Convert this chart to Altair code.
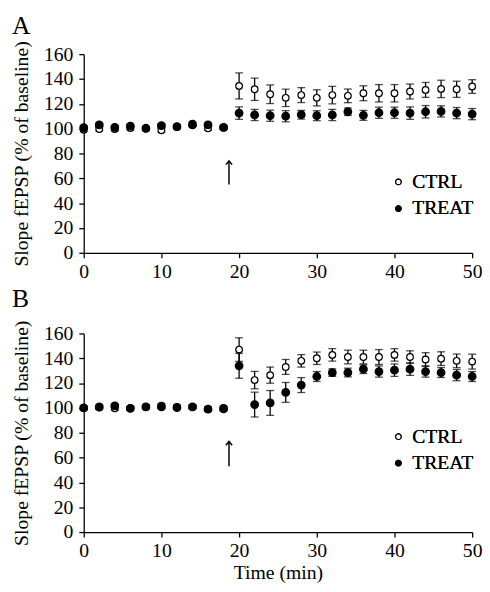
import altair as alt
import pandas as pd

FONT = "Liberation Serif, Times New Roman, serif"

time = list(range(0, 52, 2))

# Panel A
a_ctrl = [99.2, 99.7, 99.7, 100.5, 100.0, 98.7, 101.3, 104.0, 100.3, 100.8,
          134.4, 131.7, 127.7, 124.8, 127.0, 124.8, 127.0, 126.4, 128.5, 128.5,
          128.5, 129.9, 131.2, 132.0, 131.7, 133.9]
a_ctrl_err = [1.5, 1.5, 1.5, 1.5, 1.5, 1.5, 1.5, 1.5, 1.5, 1.5,
              10.5, 9.0, 7.5, 7.0, 6.0, 6.5, 7.0, 5.5, 6.0, 7.0,
              7.0, 6.0, 6.0, 7.0, 6.5, 5.5]
a_treat = [100.8, 103.0, 101.0, 102.0, 100.3, 102.4, 101.6, 103.0, 103.0, 101.0,
           112.5, 111.0, 110.4, 110.0, 111.2, 110.4, 111.0, 113.6, 110.7, 112.8,
           112.8, 112.5, 113.6, 113.9, 112.5, 111.7]
a_treat_err = [1.5, 1.5, 1.5, 1.5, 1.5, 1.5, 1.5, 1.5, 1.5, 1.5,
               5.0, 4.5, 4.5, 4.5, 3.5, 4.0, 4.5, 3.0, 4.0, 4.5,
               4.5, 5.0, 5.0, 4.5, 4.5, 4.5]

# Panel B
b_ctrl = [100.0, 100.3, 99.7, 99.7, 100.8, 101.9, 100.8, 100.8, 99.0, 100.0,
          147.0, 122.4, 126.4, 133.0, 137.9, 140.0, 142.7, 141.0, 141.0, 141.0,
          142.7, 141.0, 139.0, 139.7, 137.9, 137.3]
b_ctrl_err = [1.5, 1.5, 1.5, 1.5, 1.5, 1.5, 1.5, 1.5, 1.5, 1.5,
              9.5, 7.0, 6.5, 6.0, 5.0, 5.0, 5.0, 5.5, 5.5, 6.0,
              5.0, 5.0, 5.5, 5.5, 5.5, 6.0]
b_treat = [100.0, 100.8, 101.6, 99.7, 100.8, 100.8, 100.3, 100.8, 99.0, 99.2,
           133.9, 102.7, 104.0, 112.5, 118.4, 125.3, 128.5, 128.5, 131.2, 129.3,
           130.4, 131.2, 129.3, 128.5, 126.4, 125.3]
b_treat_err = [1.5, 1.5, 1.5, 1.5, 1.5, 1.5, 1.5, 1.5, 1.5, 1.5,
               10.0, 10.0, 10.0, 8.0, 6.0, 4.0, 3.0, 3.5, 3.5, 4.5,
               5.0, 5.0, 4.5, 4.0, 4.5, 4.0]

groups = ["CTRL", "TREAT"]
arrow_x = [18.7]
arrow_y = [[55, 74], [53, 73]]
legend_pos = [(310, 120), (310, 95)]
title_offsets = [2, 8]


def panel(label, ctrl, ctrl_err, treat, treat_err, arrow, lpos, xtitle, toff):
    rows = []
    for g, vals, errs in ((groups[0], ctrl, ctrl_err), (groups[1], treat, treat_err)):
        for t, v, e in zip(time, vals, errs):
            rows.append({"time": t, "value": v, "lo": v - e, "hi": v + e, "group": g})
    df = pd.DataFrame(rows)

    x = alt.X("time:Q", scale=alt.Scale(domain=[0, 50], nice=False, zero=False),
              axis=alt.Axis(values=[0, 10, 20, 30, 40, 50], title=xtitle))
    y_axis = alt.Axis(values=[0, 20, 40, 60, 80, 100, 120, 140, 160],
                      title="Slope fEPSP (% of baseline)")
    ysc = alt.Scale(domain=[0, 160], nice=False)
    y = alt.Y("value:Q", scale=ysc, axis=y_axis)

    layers = []
    for i, g in enumerate(groups):
        base = alt.Chart(df).transform_filter(alt.datum.group == g)
        rule = base.mark_rule(color="black", strokeWidth=1.3).encode(
            x=x, y=alt.Y("lo:Q", scale=ysc, axis=y_axis), y2="hi:Q")
        cap_lo = base.mark_tick(color="black", orient="horizontal", size=8, thickness=1.3).encode(
            x=x, y=alt.Y("lo:Q", scale=ysc, axis=y_axis))
        cap_hi = base.mark_tick(color="black", orient="horizontal", size=8, thickness=1.3).encode(
            x=x, y=alt.Y("hi:Q", scale=ysc, axis=y_axis))
        pts = base.mark_point(filled=True, shape="circle", size=46 if i == 0 else 60,
                              stroke="black", strokeWidth=1.2, opacity=1).encode(
            x=x, y=y,
            fill=alt.Fill("group:N", scale=alt.Scale(domain=groups, range=["white", "black"]),
                          legend=alt.Legend(title=None, orient="none", legendX=lpos[0], legendY=lpos[1],
                                            symbolType="circle", symbolSize=32,
                                            symbolStrokeColor="black", symbolStrokeWidth=1.2,
                                            labelFont=FONT, labelFontSize=20, labelColor="black",
                                            rowPadding=7, labelOffset=4)))
        layers += [rule, cap_lo, cap_hi, pts]

    adf = pd.DataFrame({"time": arrow_x, "lo": [arrow[0]], "hi": [arrow[1]]})
    arrow_line = alt.Chart(adf).mark_rule(color="black", strokeWidth=1.5).encode(
        x=x, y=alt.Y("lo:Q", scale=ysc, axis=y_axis), y2="hi:Q")
    arrow_head = alt.Chart(adf).mark_point(shape="M-1,1.2L0,0L1,1.2", size=40, filled=False,
                                           color="black", strokeWidth=1.5, opacity=1).encode(
        x=x, y=alt.Y("hi:Q", scale=ysc, axis=y_axis))
    layers += [arrow_line, arrow_head]

    return alt.layer(*layers).properties(
        width=395, height=202,
        title=alt.TitleParams(text=label, anchor="start", frame="bounds", fontSize=26,
                              font=FONT, fontWeight="normal", color="black", offset=toff),
    ).resolve_scale(fill="independent")


pa = panel("A", a_ctrl, a_ctrl_err, a_treat, a_treat_err, arrow_y[0], legend_pos[0], None, title_offsets[0])
pb = panel("B", b_ctrl, b_ctrl_err, b_treat, b_treat_err, arrow_y[1], legend_pos[1], "Time (min)", title_offsets[1])

chart = alt.vconcat(pa, pb, spacing=5).resolve_scale(fill="independent").properties(
    padding={"left": 4, "top": 0, "right": 0, "bottom": 4}
).configure(font=FONT).configure_view(
    stroke=None
).configure_axis(
    grid=False, domainColor="black", tickColor="black", tickSize=5, domainWidth=1.3,
    tickWidth=1.3, labelFont=FONT, labelFontSize=20, labelColor="black", labelPadding=4,
    titleFont=FONT, titleFontSize=20, titleFontWeight="normal", titleColor="black",
    labelFlush=False,
).configure_axisY(titlePadding=12, labelPadding=6).configure_axisX(titlePadding=2)

chart.save("out.html", embed_options={"renderer": "svg", "actions": False})
